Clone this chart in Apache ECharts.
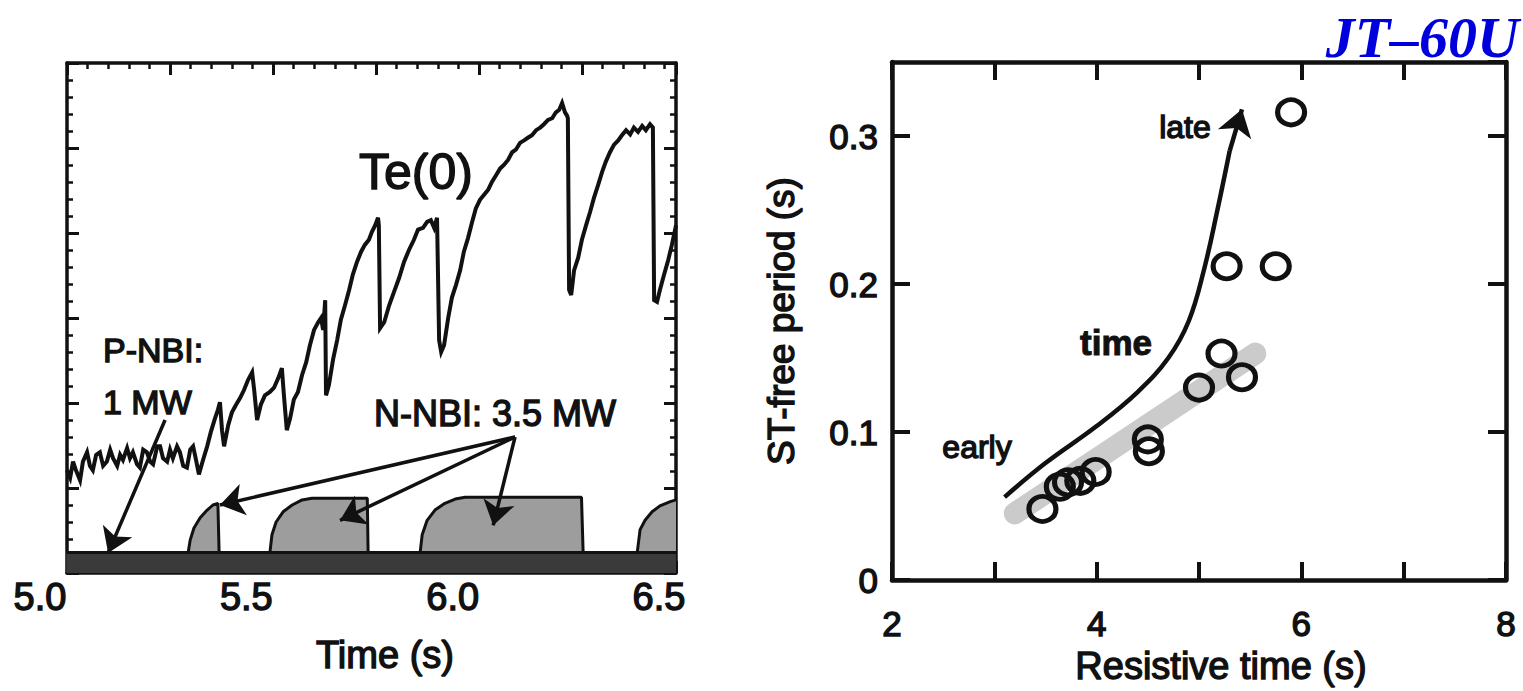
<!DOCTYPE html>
<html><head><meta charset="utf-8">
<script src="https://cdn.jsdelivr.net/npm/echarts@6/dist/echarts.min.js"></script>
<style>html,body{margin:0;padding:0;background:#fff}#c{width:1523px;height:691px}</style>
</head><body><div id="c"></div>
<script>
// ---- Left panel: Te(0) trace (time in s, Te in arbitrary units, 1 major tick = 1) ----
const teTime = [5.065,5.073,5.080,5.087,5.097,5.104,5.114,5.121,5.128,5.136,5.145,5.153,5.162,5.170,5.177,5.187,5.194,5.201,5.211,5.218,5.225,5.235,5.242,5.250,5.259,5.267,5.274,5.284,5.291,5.298,5.308,5.315,5.322,5.332,5.339,5.347,5.356,5.364,5.371,5.378,5.385,
5.395,5.405,5.414,5.424,5.431,5.436,5.441,5.446,5.456,5.465,5.475,5.485,5.494,5.504,5.514,5.519,5.526,5.535,5.545,5.557,5.567,5.577,5.586,5.591,5.598,5.606,5.615,5.625,5.635,5.645,5.654,5.664,5.674,5.681,5.686,5.691,5.693,5.700,5.710,5.720,5.729,5.739,5.749,5.758,5.768,5.778,5.787,5.797,5.804,5.812,5.819,5.821,5.824,5.834,5.846,5.858,5.870,5.882,5.894,5.906,5.916,5.928,5.938,5.947,5.955,5.962,5.967,5.972,5.979,5.989,5.998,6.008,6.018,6.027,6.037,6.047,6.056,6.066,6.076,6.086,6.095,6.105,6.115,6.124,6.134,6.144,6.153,6.163,6.173,6.182,6.192,6.202,6.212,6.221,6.231,6.241,6.250,6.258,6.265,6.272,6.277,6.279,6.282,6.287,6.294,6.304,6.313,6.323,6.333,6.342,6.352,6.362,6.371,6.381,6.391,6.401,6.410,6.420,6.430,6.439,6.449,6.459,6.468,6.478,6.485,6.488,6.495,6.502,6.512,6.522,6.531,6.541];
const teValue = [1.21,1.12,1.31,1.21,1.09,1.31,1.42,1.26,1.21,1.39,1.42,1.26,1.31,1.45,1.35,1.26,1.39,1.33,1.47,1.35,1.42,1.28,1.24,1.45,1.42,1.31,1.28,1.49,1.49,1.35,1.31,1.45,1.35,1.49,1.42,1.26,1.24,1.45,1.49,1.33,1.16,
1.33,1.49,1.66,1.82,1.92,2.01,1.68,1.49,1.74,1.89,1.98,2.06,2.15,2.27,2.36,2.15,1.80,1.98,2.09,2.13,2.18,2.29,2.41,2.09,1.68,1.82,2.04,2.13,2.33,2.48,2.68,2.86,2.95,3.00,2.86,3.21,2.09,2.21,2.51,2.74,2.98,3.15,3.33,3.51,3.66,3.78,3.86,3.92,4.01,4.09,4.18,4.09,2.88,2.95,3.15,3.31,3.47,3.66,3.80,3.92,4.04,4.06,4.13,4.15,4.06,4.18,2.74,2.60,2.68,3.00,3.24,3.39,3.56,3.78,3.94,4.13,4.29,4.39,4.45,4.51,4.60,4.68,4.76,4.80,4.86,4.95,4.98,5.06,5.09,5.12,5.15,5.21,5.24,5.28,5.33,5.35,5.42,5.45,5.53,5.42,5.38,5.35,3.33,3.27,3.56,3.71,3.92,4.09,4.25,4.41,4.56,4.72,4.84,4.95,5.04,5.09,5.15,5.21,5.16,5.24,5.19,5.26,5.21,5.28,5.24,3.21,3.19,3.33,3.51,3.68,3.86,4.09];

// N-NBI power waveform (same arbitrary units)
const nnbiTime = [5.065,5.359,5.364,5.373,5.388,5.405,5.419,5.431,5.434,5.557,5.562,5.572,5.589,5.611,5.635,5.659,5.793,5.795,5.921,5.926,5.938,5.957,5.981,6.006,6.030,6.312,6.316,6.447,6.454,6.466,6.483,6.502,6.527,6.541];
const nnbiPower = [0.24,0.24,0.39,0.53,0.65,0.74,0.80,0.82,0.24,0.24,0.45,0.60,0.72,0.80,0.86,0.88,0.88,0.24,0.24,0.45,0.62,0.74,0.82,0.87,0.89,0.89,0.24,0.24,0.51,0.62,0.72,0.79,0.84,0.86];
// P-NBI power waveform
const pnbiTime = [5.065, 6.541];
const pnbiPower = [0.24, 0.24];

// annotation arrows (start, end) in data units
const pnbiArrow = [[5.303, 1.80], [5.165, 0.235]];
const nnbiArrowStart = [6.151, 1.60];
const nnbiArrowEnds = [[5.436, 0.80], [5.727, 0.62], [6.098, 0.56]];

const timeTicks = [5.0, 5.5, 6.0, 6.5];
const timeTickLabels = ['5.0', '5.5', '6.0', '6.5'];

// ---- Right panel ----
const resistiveTime = [5.90, 5.27, 5.75, 5.22, 5.42, 5.00, 4.50, 4.51, 3.99, 3.84, 3.72, 3.64, 3.47];
const stFreePeriod  = [0.316, 0.212, 0.212, 0.153, 0.137, 0.130, 0.095, 0.087, 0.073, 0.067, 0.066, 0.063, 0.048];
const bandX = [3.2, 5.55];
const bandY = [0.045, 0.153];
const trendX = [3.10, 3.50, 4.00, 4.40, 4.70, 4.90, 5.05, 5.18, 5.30];
const trendY = [0.056, 0.079, 0.104, 0.127, 0.150, 0.175, 0.210, 0.250, 0.290];
const trendTip = [[5.30, 0.290], [5.42, 0.318]];
const resTicks = [2, 4, 6, 8];
const resTickLabels = ['2', '4', '6', '8'];
const periodTicks = [0, 0.1, 0.2, 0.3];
const periodTickLabels = ['0', '0.1', '0.2', '0.3'];

const FONT = 'Liberation Sans, Arial, sans-serif';
const INK = '#111';
const zip = (a, b) => a.map((v, i) => [v, b[i]]);
const pick = (ticks, labels) => v => { const i = ticks.findIndex(t => Math.abs(t - v) < 1e-6); return i < 0 ? '' : labels[i]; };
const heavy = { textBorderColor: INK, textBorderWidth: 1.4 };

const leftLine = { show: true, onZero: false, lineStyle: { color: INK, width: 3.5 } };
const leftTick = { show: true, inside: true, length: 12, lineStyle: { color: INK, width: 3 } };
const leftMinor = { show: true, splitNumber: 5, length: 6, lineStyle: { color: INK, width: 2.5 } };
const rightLine = { show: true, onZero: false, lineStyle: { color: INK, width: 4.5 } };
const rightTick = { show: true, inside: true, length: 18, lineStyle: { color: INK, width: 4 } };

const txt = (x, y, text, size, extra) => ({ type: 'text', x, y,
  style: Object.assign({ text, fontSize: size, fontFamily: FONT, fill: INK, align: 'center', verticalAlign: 'middle', stroke: INK, lineWidth: 1.4 }, extra || {}) });

const chart = echarts.init(document.getElementById('c'), null, { renderer: 'svg' });
chart.setOption({
  animation: false,
  backgroundColor: '#fff',
  grid: [
    { left: 67, top: 63, width: 609, height: 510 },
    { left: 40, top: 63, width: 619, height: 510 },
    { left: 892, top: 62, width: 614, height: 521 }
  ],
  xAxis: [
    { gridIndex: 0, type: 'value', min: 5.0654, max: 6.541, show: false },
    { gridIndex: 0, type: 'value', position: 'bottom', min: 0, max: 5.913, interval: 1,
      axisLine: leftLine, axisTick: leftTick, minorTick: leftMinor, axisLabel: { show: false }, splitLine: { show: false } },
    { gridIndex: 0, type: 'value', position: 'top', min: 0, max: 5.913, interval: 1,
      axisLine: leftLine, axisTick: leftTick, minorTick: leftMinor, axisLabel: { show: false }, splitLine: { show: false } },
    { gridIndex: 1, type: 'value', position: 'bottom', min: 5.0, max: 6.5, interval: 0.5,
      axisLine: { show: false, onZero: false }, axisTick: { show: false }, splitLine: { show: false },
      axisLabel: Object.assign({ formatter: pick(timeTicks, timeTickLabels), fontSize: 38, fontFamily: FONT, color: INK, margin: 5 }, heavy),
      name: 'Time (s)', nameLocation: 'middle', nameGap: 63,
      nameTextStyle: Object.assign({ fontSize: 38, fontFamily: FONT, color: INK, padding: [0, 0, 0, 71] }, heavy) },
    { gridIndex: 2, type: 'value', position: 'bottom', min: 2, max: 8, interval: 1,
      axisLine: rightLine, axisTick: rightTick, splitLine: { show: false },
      axisLabel: Object.assign({ formatter: pick(resTicks, resTickLabels), fontSize: 35, fontFamily: FONT, color: INK, margin: 26 }, heavy),
      name: 'Resistive time (s)', nameLocation: 'middle', nameGap: 58,
      nameTextStyle: Object.assign({ fontSize: 38, fontFamily: FONT, color: INK, padding: [0, 0, 0, 44] }, heavy) },
    { gridIndex: 2, type: 'value', position: 'top', min: 2, max: 8, interval: 1,
      axisLine: rightLine, axisTick: rightTick, axisLabel: { show: false }, splitLine: { show: false } }
  ],
  yAxis: [
    { gridIndex: 0, type: 'value', position: 'left', min: 0, max: 6, interval: 1,
      axisLine: leftLine, axisTick: leftTick, minorTick: leftMinor, axisLabel: { show: false }, splitLine: { show: false } },
    { gridIndex: 0, type: 'value', position: 'right', min: 0, max: 6, interval: 1,
      axisLine: leftLine, axisTick: leftTick, minorTick: leftMinor, axisLabel: { show: false }, splitLine: { show: false } },
    { gridIndex: 1, type: 'value', min: 0, max: 6, show: false },
    { gridIndex: 2, type: 'value', position: 'left', min: 0, max: 0.35, interval: 0.1,
      axisLine: rightLine, axisTick: rightTick, splitLine: { show: false },
      axisLabel: Object.assign({ formatter: pick(periodTicks, periodTickLabels), fontSize: 35, fontFamily: FONT, color: INK, margin: 14, showMaxLabel: false }, heavy),
      name: 'ST-free period (s)', nameLocation: 'middle', nameGap: 92,
      nameTextStyle: Object.assign({ fontSize: 37, fontFamily: FONT, color: INK }, heavy) },
    { gridIndex: 2, type: 'value', position: 'right', min: 0, max: 0.35, interval: 0.1,
      axisLine: rightLine, axisTick: rightTick, axisLabel: { show: false }, splitLine: { show: false } }
  ],
  series: [
    { type: 'line', name: 'N-NBI', xAxisIndex: 0, yAxisIndex: 0, data: zip(nnbiTime, nnbiPower),
      showSymbol: false, z: 2, lineStyle: { color: INK, width: 3 }, areaStyle: { color: '#9d9d9d', opacity: 1 } },
    { type: 'line', name: 'P-NBI', xAxisIndex: 0, yAxisIndex: 0, data: zip(pnbiTime, pnbiPower),
      showSymbol: false, z: 3, lineStyle: { color: INK, width: 3 }, areaStyle: { color: '#3a3a3a', opacity: 1 } },
    { type: 'line', name: 'Te(0)', xAxisIndex: 0, yAxisIndex: 0, data: zip(teTime, teValue),
      showSymbol: false, z: 5, lineStyle: { color: INK, width: 4, join: 'miter' } },
    { type: 'lines', coordinateSystem: 'cartesian2d', xAxisIndex: 0, yAxisIndex: 0, z: 6,
      symbol: ['none', 'arrow'], symbolSize: [16, 24],
      lineStyle: { color: INK, width: 3.5, opacity: 1 },
      data: [{ coords: pnbiArrow }].concat(nnbiArrowEnds.map(e => ({ coords: [nnbiArrowStart, e] }))) },
    // right panel
    { type: 'line', name: 'band', xAxisIndex: 4, yAxisIndex: 3, data: zip(bandX, bandY),
      showSymbol: false, z: 2, lineStyle: { color: '#cbcbcb', width: 22, cap: 'round' } },
    { type: 'line', name: 'trend', xAxisIndex: 4, yAxisIndex: 3, data: zip(trendX, trendY), smooth: 0.4,
      showSymbol: false, z: 4, lineStyle: { color: INK, width: 4.5 } },
    { type: 'lines', coordinateSystem: 'cartesian2d', xAxisIndex: 4, yAxisIndex: 3, z: 4,
      symbol: ['none', 'arrow'], symbolSize: [18, 26],
      lineStyle: { color: INK, width: 4.5, opacity: 1 }, data: [{ coords: trendTip }] },
    { type: 'scatter', name: 'ST-free', xAxisIndex: 4, yAxisIndex: 3, data: zip(resistiveTime, stFreePeriod),
      symbol: 'circle', symbolSize: [27, 25], z: 5,
      itemStyle: { color: 'rgba(255,255,255,0)', borderColor: INK, borderWidth: 5, opacity: 1 } }
  ],
  graphic: [
    txt(416, 172, 'Te(0)', 50),
    txt(103, 350, 'P-NBI:', 34, { align: 'left' }),
    txt(103, 402, '1 MW', 34, { align: 'left' }),
    txt(495, 413, 'N-NBI: 3.5 MW', 36),
    txt(977, 447, 'early', 32),
    txt(1116, 342, 'time', 35, { fontWeight: 'bold', lineWidth: 1 }),
    txt(1185, 127, 'late', 32),
    { type: 'text', x: 1519, y: 37, style: { text: 'JT\u201360U', fontSize: 58, fontWeight: 'bold', fontStyle: 'italic', fontFamily: 'Liberation Serif, Times New Roman, serif', fill: '#0000dd', align: 'right', verticalAlign: 'middle' } }
  ]
});
</script>
</body></html>
